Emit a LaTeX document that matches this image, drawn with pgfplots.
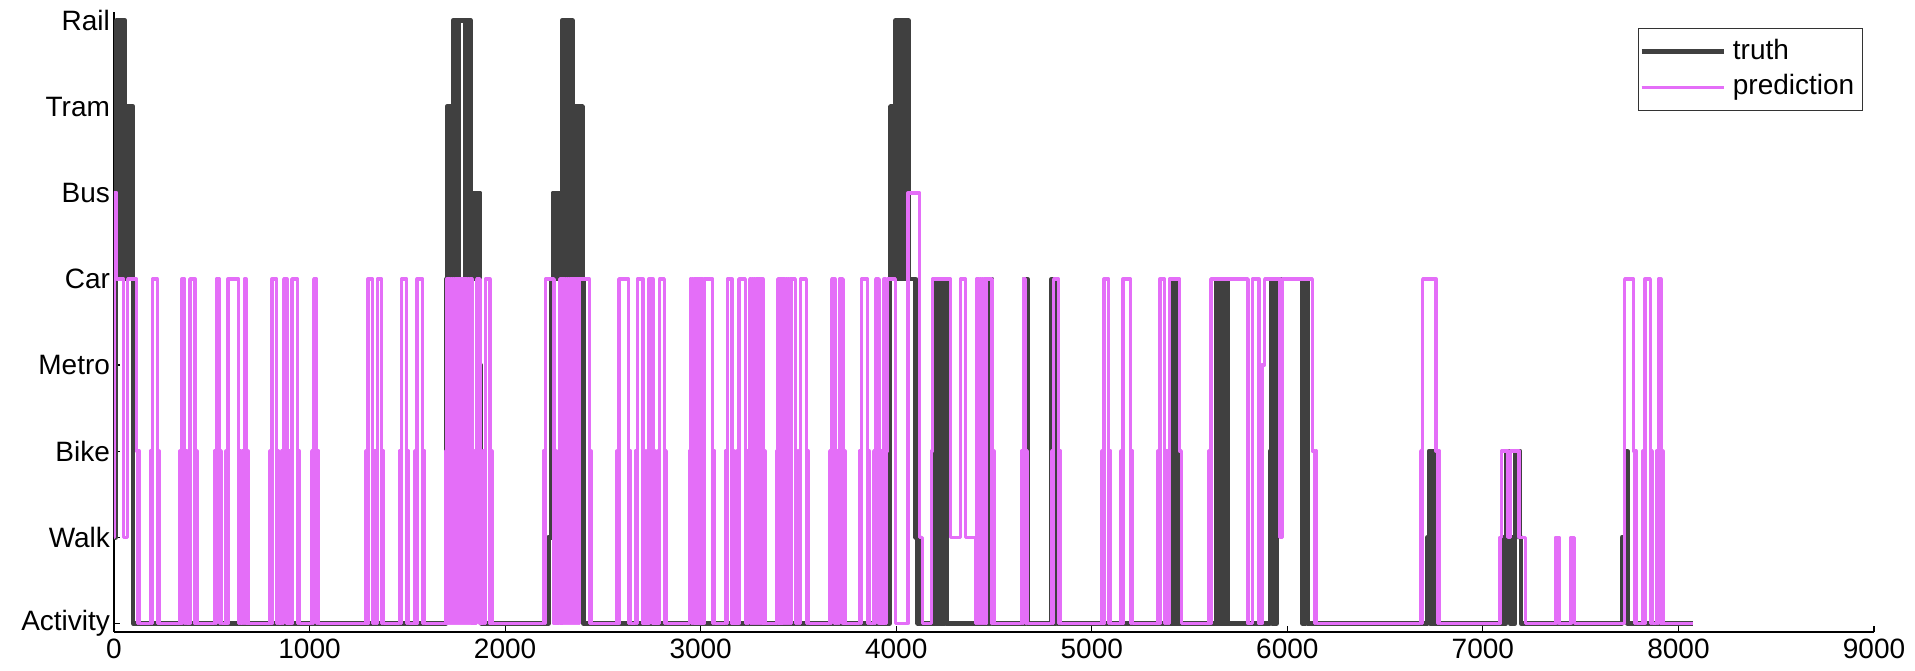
\documentclass[border=0pt]{standalone}
\usepackage{pgfplots}
\pgfplotsset{compat=1.18}
\usepackage{fontspec}
\setmainfont{Liberation Sans}
\definecolor{truthc}{RGB}{64,64,64}
\definecolor{predc}{RGB}{228,110,248}
\begin{document}
\begin{tikzpicture}
\begin{axis}[
  at={(0,0)}, anchor=south west,
  scale only axis, width=880pt, height=310pt,
  xmin=0, xmax=9000, ymin=-0.1, ymax=7.1,
  axis x line*=bottom, axis y line*=left,
  axis line style={black, line width=0.6pt},
  xtick={0,1000,...,9000},
  ytick={0,1,2,3,4,5,6,7},
  yticklabels={Activity,Walk,Bike,Metro,Car,Bus,Tram,Rail},
  tick align=inside, major tick length=3pt,
  tick style={black, line width=0.6pt},
  scaled x ticks=false,
  /pgf/number format/assume math mode=true,
  /pgf/number format/1000 sep={},
  xticklabel style={font=\fontsize{14}{16}\selectfont},
  yticklabel style={font=\fontsize{14}{16}\selectfont, xshift=1.5pt},
  legend style={at={(rel axis cs:0.9937,0.974)}, anchor=north east,
    draw=black!80, line width=0.6pt, font=\fontsize{14}{16}\selectfont,
    inner xsep=0.5pt, inner ysep=2.5pt, row sep=0pt,
    nodes={text height=10.5pt, text depth=3pt, inner ysep=2.2pt, inner xsep=3.5pt}},
  legend cell align=left,
  legend image code/.code={\draw[#1] (0pt,0pt) -- (41pt,0pt);},
]
% truth
\addplot[const plot, color=truthc, line width=2.3pt, line join=round] coordinates {
(0,1)(8,4)(12,7)(17,4)(22,7)(27,4)(32,7)(37,4)(42,7)(47,4)(52,7)(57,4)(62,6)(67,4)(72,6)(77,4)(82,6)(87,4)(92,6)(98,0)
(1698,4)(1703,6)(1708,4)(1713,6)(1718,4)(1723,6)(1728,4)(1733,7)(1738,4)(1743,7)(1748,4)(1753,7)(1758,4)(1763,7)(1795,4)(1800,7)(1805,4)(1810,7)(1815,4)(1820,7)(1825,4)(1830,5)(1835,4)(1840,5)(1845,4)(1850,5)(1855,4)(1860,5)(1865,4)(1870,5)(1872,3)(1876,1)(1880,0)(1884,1)(1890,0)
(2222,1)(2238,4)(2244,5)(2249,4)(2254,5)(2259,4)(2264,5)(2269,4)(2274,5)(2279,4)(2284,5)(2290,7)(2295,4)(2300,7)(2305,4)(2310,7)(2315,4)(2320,7)(2325,4)(2330,7)(2335,4)(2340,7)(2345,4)(2350,6)(2355,4)(2360,6)(2365,4)(2370,6)(2375,4)(2380,6)(2385,4)(2390,6)(2395,4)(2401,0)
(3967,4)(3972,6)(3977,4)(3982,6)(3987,4)(3992,6)(3997,7)(4002,4)(4007,7)(4012,4)(4017,7)(4022,4)(4027,7)(4032,4)(4037,7)(4042,4)(4047,7)(4052,4)(4057,7)(4064,4)(4100,1)(4110,0)(4114,1)(4118,0)
(4200,4)(4205,0)(4210,4)(4215,0)(4220,4)(4225,0)(4230,4)(4235,0)(4240,4)(4245,0)(4250,4)(4257,0)
(4462,4)(4467,0)(4472,4)(4477,0)(4482,4)(4490,0)
(4653,4)(4658,0)(4663,4)(4670,0)
(4795,4)(4800,0)(4805,4)(4810,0)(4815,4)(4822,0)
(5412,4)(5417,0)(5422,4)(5427,0)(5432,4)(5437,0)
(5638,4)(5643,0)(5648,4)(5653,0)(5658,4)(5663,0)(5668,4)(5673,0)(5678,4)(5683,0)(5688,4)(5693,0)
(5911,2)(5916,4)(5921,0)(5926,4)(5931,0)(5936,4)(5941,0)(5946,4)(6077,0)(6082,4)(6087,0)(6092,4)(6102,0)
(6716,1)(6724,2)(6729,0)(6734,2)(6739,0)(6744,2)(6749,0)(6754,2)(6759,0)
(7108,1)(7113,0)(7118,1)(7122,2)(7134,1)(7139,0)(7144,1)(7149,0)(7154,1)(7159,0)(7164,1)(7168,2)(7190,1)(7194,0)
(7711,1)(7728,2)(7740,0)
(8075,0)
};
\addlegendentry{truth}
% prediction
\addplot[const plot, color=predc, line width=1.7pt, line join=round] coordinates {
(0,1)(2,5)(14,4)(50,1)(70,4)(115,2)(120,0)(125,2)(130,0)
(187,2)(192,0)(197,4)(221,0)(226,2)(231,0)
(337,2)(342,0)(347,4)(362,0)(367,2)(372,0)
(378,2)(383,0)(388,4)(414,0)(419,2)(424,0)
(513,2)(518,0)(523,4)(539,0)(544,2)(549,0)
(573,2)(578,0)(583,4)(638,0)(643,2)(648,0)
(656,2)(661,0)(666,4)(676,0)(681,2)(686,0)
(798,2)(803,0)(808,4)(832,0)(837,2)(842,0)
(858,2)(863,0)(868,4)(884,0)(889,2)(894,0)
(900,2)(905,0)(910,4)(938,0)(943,2)(948,0)
(1011,2)(1016,0)(1021,4)(1037,0)(1042,2)(1047,0)
(1289,2)(1294,0)(1299,4)(1322,0)(1327,2)(1332,0)
(1336,2)(1341,0)(1346,4)(1369,0)(1374,2)(1379,0)
(1460,2)(1465,0)(1470,4)(1497,0)(1502,2)(1507,0)
(1540,2)(1545,0)(1550,4)(1579,0)(1584,2)(1589,0)
(1698,2)(1702,4)(1707,0)(1712,4)(1717,0)(1722,4)(1727,0)(1732,4)(1737,0)(1742,4)(1747,0)(1752,4)(1757,0)(1762,4)(1767,0)(1772,4)(1777,0)(1782,4)(1787,0)(1792,4)(1797,0)(1802,4)(1807,0)(1812,4)(1817,0)(1822,4)(1830,0)
(1845,2)(1850,0)(1855,4)(1872,0)(1877,2)(1882,0)
(1890,2)(1895,0)(1900,4)(1922,0)(1927,2)(1932,0)
(2196,2)(2201,0)(2206,4)(2250,0)(2255,2)(2260,0)
(2275,2)(2280,4)(2285,0)(2290,4)(2295,0)(2300,4)(2305,0)(2310,4)(2315,0)(2320,4)(2325,0)(2330,4)(2335,0)(2340,4)(2345,0)(2350,4)(2355,0)(2360,4)(2365,0)(2370,4)(2375,0)(2380,4)(2430,0)(2435,2)(2440,0)
(2572,2)(2577,0)(2582,4)(2632,0)(2637,2)(2642,0)
(2666,2)(2671,0)(2676,4)(2705,0)(2710,2)(2715,0)
(2725,2)(2730,0)(2735,4)(2756,0)(2761,2)(2766,0)
(2781,2)(2786,0)(2791,4)(2814,0)(2819,2)(2824,0)
(2942,2)(2947,4)(2952,0)(2957,4)(2962,0)(2967,4)(2972,0)(2977,4)(2982,0)(2987,4)(2992,0)(2997,4)(3002,0)(3007,4)(3012,0)(3017,4)(3062,0)(3067,2)(3072,0)
(3126,2)(3131,0)(3136,4)(3160,0)(3165,2)(3170,0)
(3186,2)(3191,0)(3196,4)(3228,0)(3233,2)(3238,0)
(3246,2)(3251,4)(3256,0)(3261,4)(3266,0)(3271,4)(3276,0)(3281,4)(3286,0)(3291,4)(3296,0)(3301,4)(3306,0)(3311,4)(3318,0)(3323,2)(3328,0)
(3390,2)(3395,4)(3400,0)(3405,4)(3410,0)(3415,4)(3420,0)(3425,4)(3430,0)(3435,4)(3440,0)(3445,4)(3450,0)(3455,4)(3460,0)(3465,4)(3484,0)(3489,2)(3494,0)
(3501,2)(3506,0)(3511,4)(3540,0)(3545,2)(3550,0)
(3660,2)(3665,0)(3670,4)(3686,0)(3691,2)(3696,0)
(3700,2)(3705,0)(3710,4)(3728,0)(3733,2)(3738,0)
(3812,2)(3817,0)(3822,4)(3853,0)(3858,2)(3863,0)
(3885,2)(3890,0)(3895,4)(3912,0)(3917,2)(3922,0)
(3928,2)(3933,0)(3938,4)(3945,0)(3950,2)(3955,4)(3995,0)
(4060,5)(4120,1)(4135,0)(4180,2)(4185,4)(4278,1)(4328,4)(4355,1)(4405,0)
(4410,4)(4415,0)(4420,4)(4425,0)(4430,4)(4435,0)(4440,4)(4445,0)(4450,4)(4455,0)(4460,4)(4490,0)(4495,2)(4500,0)
(4640,2)(4645,0)(4650,4)(4660,0)(4665,2)(4670,0)
(4795,2)(4800,0)(4805,4)(4830,0)(4835,2)(4840,0)
(5053,2)(5058,0)(5063,4)(5087,0)(5092,2)(5097,0)
(5150,2)(5155,0)(5160,4)(5198,0)(5203,2)(5208,0)
(5338,2)(5343,0)(5348,4)(5372,0)(5377,2)(5382,0)
(5387,2)(5392,0)(5397,4)(5450,2)(5458,0)
(5599,2)(5604,0)(5609,4)(5799,0)(5821,4)(5855,0)(5870,3)(5884,4)(5962,1)(5975,4)(6128,2)(6140,0)(6145,2)(6150,0)
(6682,2)(6687,0)(6692,4)(6760,2)(6768,0)(6773,2)(6778,0)
(7088,1)(7095,2)(7128,1)(7140,2)(7185,1)(7219,0)
(7373,1)(7390,0)(7450,1)(7467,0)
(7725,4)(7770,2)(7775,0)(7780,2)(7785,0)
(7818,2)(7823,0)(7828,4)(7856,0)(7861,2)(7866,0)
(7888,2)(7893,0)(7898,4)(7910,0)(7915,2)(7920,0)
(8075,0)
};
\addlegendentry{prediction}
\end{axis}
\pgfresetboundingbox
\path[use as bounding box] (-57pt,-19pt) rectangle (900.5pt,316pt);
\end{tikzpicture}
\end{document}
